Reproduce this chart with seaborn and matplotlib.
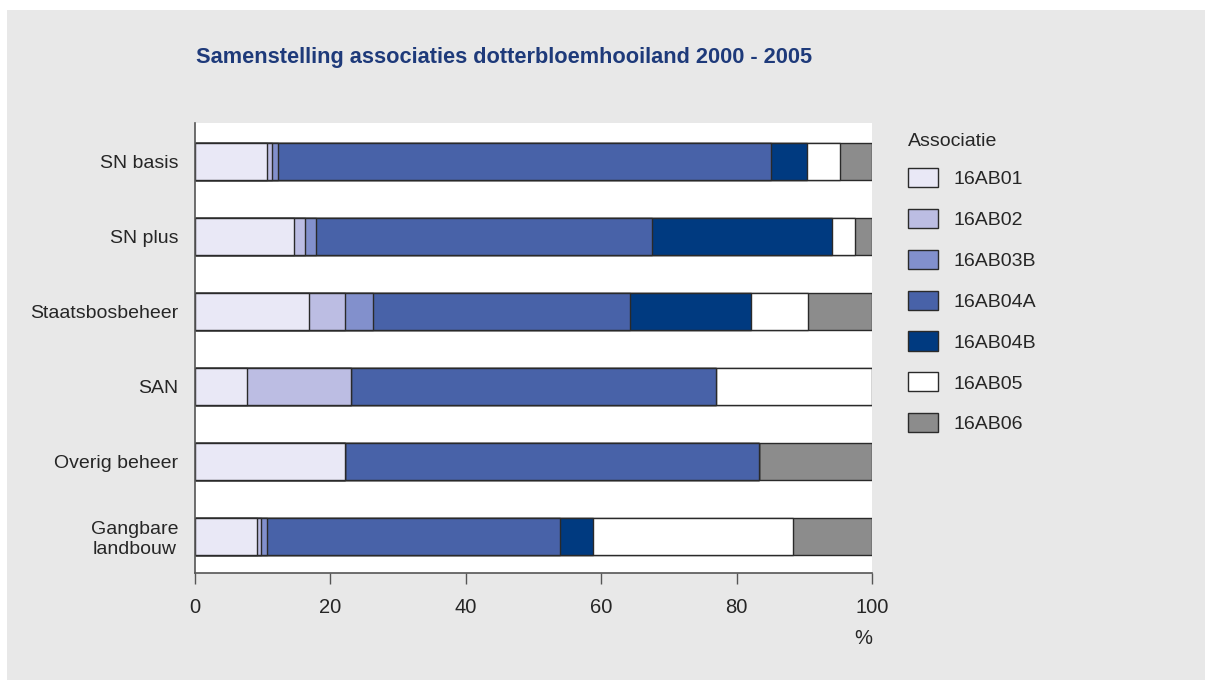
import matplotlib
matplotlib.use("Agg")
import matplotlib.pyplot as plt
from matplotlib.patches import Patch
import numpy as np
import pandas as pd
import seaborn as sns

# Beheertypen (rows) and associatie shares in percent
categories = ["SN basis", "SN plus", "Staatsbosbeheer", "SAN", "Overig beheer", "Gangbare\nlandbouw"]
associaties = ["16AB01", "16AB02", "16AB03B", "16AB04A", "16AB04B", "16AB05", "16AB06"]

ab01 = [10.6, 14.6, 16.9, 7.7, 22.2, 9.2]
ab02 = [0.7, 1.7, 5.2, 15.4, 0.0, 0.6]
ab03b = [1.0, 1.6, 4.2, 0.0, 0.0, 0.8]
ab04a = [72.8, 49.6, 37.9, 53.8, 61.1, 43.3]
ab04b = [5.3, 26.6, 17.9, 0.0, 0.0, 4.9]
ab05 = [4.9, 3.4, 8.5, 23.1, 0.0, 29.5]
ab06 = [4.7, 2.5, 9.4, 0.0, 16.7, 11.7]

xticks = [0, 20, 40, 60, 80, 100]

colors = ["#e9e8f6", "#bcbde3", "#8290cc", "#4862a8", "#003a80", "#ffffff", "#8c8c8c"]

series = [ab01, ab02, ab03b, ab04a, ab04b, ab05, ab06]
df = pd.DataFrame(dict(zip(associaties, series)), index=categories)
cum = df.cumsum(axis=1)

sns.set_theme(style="white")
plt.rcParams["font.family"] = ["Liberation Sans", "DejaVu Sans"]

fig = plt.figure(figsize=(12.05, 6.8), dpi=100, facecolor="white")
# grey panel behind the chart
fig.patches.append(plt.Rectangle((7 / 1205, 0), 1, 1 - 10 / 680, transform=fig.transFigure,
                                 facecolor="#e8e8e8", edgecolor="none", zorder=-10))

ax = fig.add_axes([195 / 1205, 1 - 573 / 680, 677 / 1205, 450 / 680])
ax.set_facecolor("white")

# stacked bars: draw cumulative totals from the outermost segment inwards
for name, col in zip(reversed(associaties), reversed(colors)):
    sns.barplot(x=cum[name].values, y=categories, orient="h", color=col,
                edgecolor="#2a2a2a", linewidth=1.0, width=0.5, saturation=1,
                ax=ax, zorder=2)

ax.set_xlim(0, 100)
ax.set_ylim(5.49, -0.51)
ax.set_xticks(xticks)
ax.set_xticklabels([str(t) for t in xticks])
ax.tick_params(axis="x", direction="out", length=8, width=1, color="#555555",
               labelsize=14.5, labelcolor="#262626", pad=10, bottom=True)
ax.tick_params(axis="y", length=0, labelsize=14, labelcolor="#262626", pad=12)
for lbl in ax.get_yticklabels():
    lbl.set_horizontalalignment("right")
    lbl.set_multialignment("center")

for s in ["top", "right"]:
    ax.spines[s].set_visible(False)
for s in ["left", "bottom"]:
    ax.spines[s].set_color("#555555")
    ax.spines[s].set_linewidth(1.2)

ax.set_ylabel("")
ax.set_xlabel("%", loc="right", fontsize=14.5, color="#262626", labelpad=9)
ax.xaxis.label.set_horizontalalignment("right")

fig.text(196 / 1205, 1 - 58 / 680, "Samenstelling associaties dotterbloemhooiland 2000 - 2005",
         fontsize=15.7, fontweight="bold", color="#1e3a7a", va="center", ha="left",
         family=["Liberation Sans Narrow", "Liberation Sans", "DejaVu Sans"])

handles = [Patch(facecolor=c, edgecolor="#2a2a2a", linewidth=1.0) for c in colors]
leg = fig.legend(handles, associaties, title="Associatie", loc="upper left",
                 bbox_to_anchor=(908 / 1205, 1 - 133 / 680), frameon=False,
                 fontsize=14, title_fontsize=14, handlelength=1.55, handleheight=1.13,
                 labelspacing=1.07, handletextpad=0.8, borderpad=0, borderaxespad=0,
                 alignment="left")
leg._legend_box.sep = 12.8
for t in leg.get_texts():
    t.set_color("#262626")
leg.get_title().set_color("#262626")

fig.savefig("out.png", dpi=100, facecolor="white")
